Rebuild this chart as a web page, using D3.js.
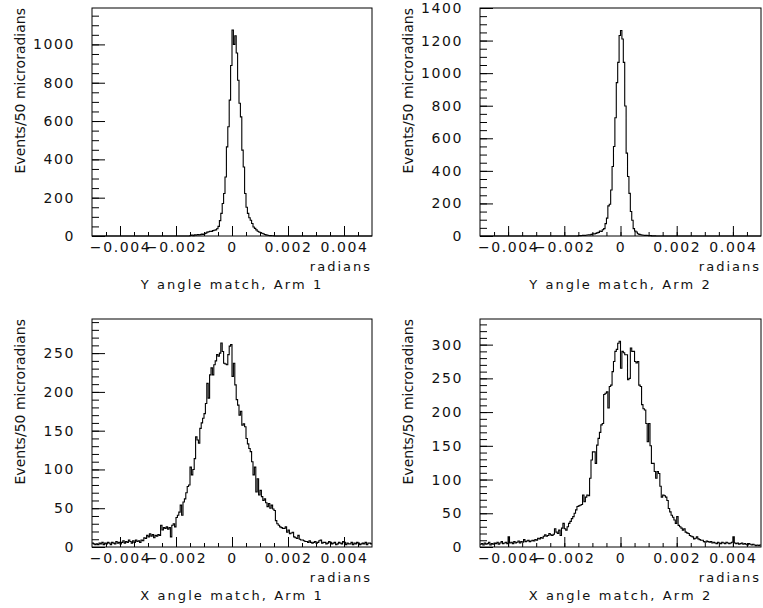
<!DOCTYPE html>
<html><head><meta charset="utf-8">
<script src="https://cdn.jsdelivr.net/npm/d3@7"></script>
<style>
body{margin:0;background:#fff}
text{font-family:"DejaVu Sans",sans-serif;fill:#111}
</style>
</head><body>
<svg id="c" width="763" height="608"></svg>
<script>
// ---- data: 200 bins of 50 microradians from -0.005 to 0.005 ----
const xRange = [-0.005, 0.005];
const binWidth = 0.00005;

const yMatchArm1 = [
0,0,0,0,0,0,0,0,0,0, 0,0,0,0,0,0,0,0,0,0, 0,0,0,0,0,0,0,0,0,0, 0,0,0,0,0,0,0,0,0,0,
0,0,0,0,0,0,0,0,0,0, 0,0,0,0,0,0,0,0,0,0, 0,0,0,0,0,0,0,0,0,0,
3,5,2,6,4,8,5,7,10,8,
12,15,20,22,25,24,28,30,32,38,
50,80,118,170,222,308,465,570,709,890,
1075,1000,1045,955,813,693,622,448,360,222,
150,118,95,82,65,47,40,32,25,21,
18,14,12,8,6,4,3,2,1,1,
0,0,0,0,0,0,0,0,0,0, 0,0,0,0,0,0,0,0,0,0, 0,0,0,0,0,0,0,0,0,0, 0,0,0,0,0,0,0,0,0,0,
0,0,0,0,0,0,0,0,0,0, 0,0,0,0,0,0,0,0,0,0, 0,0,0,0,0,0,0,0,0,0
];

const yMatchArm2 = [
0,0,0,0,0,0,0,0,0,0, 0,0,0,0,0,0,0,0,0,0, 0,0,0,0,0,0,0,0,0,0, 0,0,0,0,0,0,0,0,0,0,
0,0,0,0,0,0,0,0,0,0, 0,0,0,0,0,0,0,0,0,0, 0,0,0,0,0,0,0,0,0,0,
2,2,3,4,4,5,6,8,7,10,
14,12,16,19,22,31,28,38,45,76,
110,185,195,282,427,550,726,942,1066,1231,
1262,1210,1066,798,509,365,262,150,97,45,
30,25,14,10,8,6,5,4,4,3,
2,2,1,1,1,0,0,0,0,0,
0,0,0,0,0,0,0,0,0,0, 0,0,0,0,0,0,0,0,0,0, 0,0,0,0,0,0,0,0,0,0, 0,0,0,0,0,0,0,0,0,0,
0,0,0,0,0,0,0,0,0,0, 0,0,0,0,0,0,0,0,0,0, 0,0,0,0,0,0,0,0,0,0
];

const xMatchArm1 = [
5,4,3,4,3,5,4,6,3,5, 4,6,5,3,6,5,4,7,5,6,
4,6,8,5,7,6,9,7,5,8, 6,9,7,8,6,9,8,12,11,15,
13,17,14,16,12,15,14,16,15,28, 22,25,24,26,23,25,13,28,30,26,
38,41,45,54,41,58,62,70,78,80, 103,93,100,114,142,138,134,153,160,166,
172,185,211,192,222,231,222,235,240,248, 246,250,263,252,237,236,235,248,259,261,
220,237,209,190,183,170,175,157,159,155, 140,133,127,123,110,93,103,71,88,67,
73,65,60,62,57,52,56,50,54,49, 47,34,30,28,26,25,24,24,26,19,
22,17,18,19,13,12,11,15,10,9, 9,8,7,7,6,8,6,5,6,7,
5,6,8,9,5,6,6,4,5,7, 6,4,5,6,3,4,6,5,4,7,
6,3,5,4,4,6,3,5,4,6, 5,3,4,5,4,6,3,5,5,4
];

const xMatchArm2 = [
4,5,3,6,4,5,7,3,5,4, 6,5,7,4,6,8,5,6,7,5,
15,6,7,5,8,6,7,9,6,8, 7,11,8,9,10,8,9,10,9,11,
10,13,12,14,13,16,18,16,17,20, 18,17,19,27,22,20,25,17,28,35,
27,25,30,35,38,42,45,50,55,60, 61,62,63,77,67,74,77,76,102,129,
141,141,124,151,161,170,181,183,226,228, 230,206,238,240,260,275,290,293,302,305,
265,290,288,285,285,248,250,295,290,290, 275,273,275,240,238,211,205,203,183,156,
183,150,124,124,112,102,112,109,90,74, 77,76,74,69,57,52,47,44,40,35,
45,32,30,28,25,27,22,21,20,17, 16,15,12,13,15,12,11,10,10,8,
7,9,8,7,8,6,7,6,5,7, 6,5,7,6,5,7,6,5,6,7,
15,6,5,6,4,5,6,4,5,4, 3,5,4,3,4,3,2,3,2,3
];

const series = [yMatchArm1, yMatchArm2, xMatchArm1, xMatchArm2];
const titles = ["Y angle match, Arm 1", "Y angle match, Arm 2", "X angle match, Arm 1", "X angle match, Arm 2"];
const yTitle = "Events/50 microradians";
const xTitle = "radians";
const yMaxes = [1190, 1400, 294, 338];
const yMajorTicks = [
  [0,200,400,600,800,1000],
  [0,200,400,600,800,1000,1200,1400],
  [0,50,100,150,200,250],
  [0,50,100,150,200,250,300]
];
const yMinorSteps = [50, 50, 10, 10];
const xMajorTicks = [-0.004, -0.002, 0, 0.002, 0.004];
const xMinorStep = 0.0005;

// ---- layout ----
const frames = [
  {l:92,  r:372, t:8,   b:236},
  {l:480, r:761, t:8,   b:236},
  {l:92,  r:372, t:319, b:547},
  {l:480, r:761, t:319, b:547}
];

const svg = d3.select("#c");
const fmt = d => d === 0 ? "0" : d3.format(".3f")(d);

series.forEach((vals, p) => {
  const f = frames[p];
  const x = d3.scaleLinear().domain(xRange).range([f.l, f.r]);
  const y = d3.scaleLinear().domain([0, yMaxes[p]]).range([f.b, f.t]);
  const g = svg.append("g");

  const xMinor = d3.range(xRange[0], xRange[1] + 1e-9, xMinorStep).filter(v => v > xRange[0] + 1e-9 && v < xRange[1] - 1e-9);
  const yMinor = d3.range(0, yMaxes[p], yMinorSteps[p]).filter(v => v > 0);

  g.append("g").attr("transform", `translate(0,${f.b})`)
    .call(d3.axisBottom(x).tickValues(xMinor).tickSize(-4).tickFormat(""))
    .call(s => s.select(".domain").remove())
    .selectAll("line").attr("stroke", "#000");
  const xa = g.append("g").attr("transform", `translate(0,${f.b})`)
    .call(d3.axisBottom(x).tickValues(xMajorTicks).tickSize(-10).tickPadding(16).tickFormat(fmt));
  xa.select(".domain").remove();
  xa.selectAll("line").attr("stroke", "#000");
  xa.selectAll("text").attr("font-size", 14).attr("font-family", "DejaVu Sans")
    .style("letter-spacing", "1.6px").attr("fill", "#111").attr("dy", "0");

  g.append("g").attr("transform", `translate(${f.l},0)`)
    .call(d3.axisLeft(y).tickValues(yMinor).tickSize(-7).tickFormat(""))
    .call(s => s.select(".domain").remove())
    .selectAll("line").attr("stroke", "#000");
  const ya = g.append("g").attr("transform", `translate(${f.l},0)`)
    .call(d3.axisLeft(y).tickValues(yMajorTicks[p]).tickSize(-13).tickPadding(17).tickFormat(d3.format("d")));
  ya.select(".domain").remove();
  ya.selectAll("line").attr("stroke", "#000");
  ya.selectAll("text").attr("font-size", 14).attr("font-family", "DejaVu Sans")
    .style("letter-spacing", "1.6px").attr("fill", "#111");

  // histogram
  const pts = vals.map((v, i) => [xRange[0] + i * binWidth, v]);
  pts.push([xRange[1], vals[vals.length - 1]]);
  const line = d3.line().x(d => x(d[0])).y(d => y(d[1])).curve(d3.curveStepAfter);
  g.append("path").attr("d", line(pts)).attr("fill", "none")
    .attr("stroke", "#000").attr("stroke-width", 1.1);

  // frame
  g.append("rect").attr("x", f.l).attr("y", f.t).attr("width", f.r - f.l).attr("height", f.b - f.t)
    .attr("fill", "none").attr("stroke", "#000").attr("stroke-width", 1);

  // titles
  g.append("text").attr("x", f.r).attr("y", f.b + 35).attr("text-anchor", "end")
    .attr("font-size", 13).style("letter-spacing", "2px").text(xTitle);
  g.append("text").attr("x", (f.l + f.r) / 2).attr("y", f.b + 53).attr("text-anchor", "middle")
    .attr("font-size", 13).style("letter-spacing", "2.1px").text(titles[p]);
  g.append("text").attr("transform", `translate(${f.l - 67},${f.t}) rotate(-90)`)
    .attr("text-anchor", "end").attr("font-size", 14).text(yTitle);
});
</script>
</body></html>
